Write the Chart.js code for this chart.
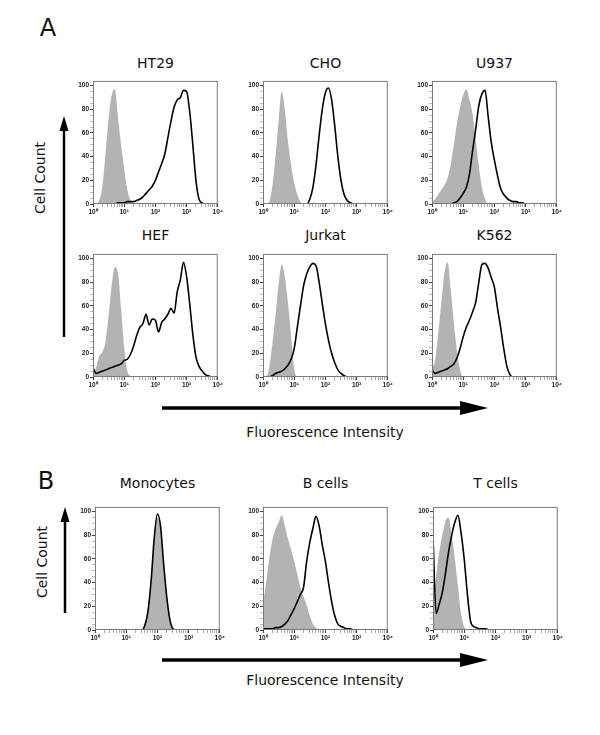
<!DOCTYPE html>
<html>
<head>
<meta charset="utf-8">
<script src="https://cdn.jsdelivr.net/npm/chart.js@4.4.0/dist/chart.umd.min.js"></script>
<style>
body { margin: 0; background: #fff; }
#fig { position: relative; width: 600px; height: 735px; font-family: "DejaVu Sans", sans-serif; color: #111; }
.lbl { position: absolute; white-space: nowrap; font-size: 14px; line-height: 18px; transform: translate(-50%, -50%); }
.big { font-size: 24px; line-height: 28px; }
.rot { transform: translate(-50%, -50%) rotate(-90deg); }
canvas { position: absolute; }
svg { position: absolute; left: 0; top: 0; }
</style>
</head>
<body>
<div id="fig">
  <svg width="600" height="735">
    <line x1="64" y1="337" x2="64" y2="128" stroke="#000" stroke-width="2.5"/>
    <polygon points="64,116 59.5,131 68.5,131" fill="#000"/>
    <line x1="65" y1="613" x2="65" y2="520" stroke="#000" stroke-width="2.5"/>
    <polygon points="65,507 60.5,522 69.5,522" fill="#000"/>
    <line x1="162" y1="408" x2="465" y2="408" stroke="#000" stroke-width="3.5"/>
    <polygon points="488,408 460,401 460,415" fill="#000"/>
    <line x1="162" y1="660" x2="465" y2="660" stroke="#000" stroke-width="3.5"/>
    <polygon points="488,660 460,653 460,667" fill="#000"/>
  </svg>
  <div class="lbl big" style="left:48px;top:28px">A</div>
  <div class="lbl big" style="left:46px;top:481px">B</div>
  <div class="lbl rot" style="left:40px;top:178px">Cell Count</div>
  <div class="lbl rot" style="left:42px;top:562px">Cell Count</div>
  <div class="lbl" style="left:325px;top:432px">Fluorescence Intensity</div>
  <div class="lbl" style="left:325px;top:680px">Fluorescence Intensity</div>
</div>
<script>
// bin centres, in decades (10^0 .. 10^4)
const bins = [0, 0.1, 0.2, 0.3, 0.4, 0.5, 0.6, 0.7, 0.8, 0.9,
              1.0, 1.1, 1.2, 1.3, 1.4, 1.5, 1.6, 1.7, 1.8, 1.9,
              2.0, 2.1, 2.2, 2.3, 2.4, 2.5, 2.6, 2.7, 2.8, 2.9,
              3.0, 3.1, 3.2, 3.3, 3.4, 3.5, 3.6, 3.7, 3.8, 3.9, 4.0];

const xMajor = [1, 10, 100, 1000, 10000];
const yTicks = [0, 20, 40, 60, 80, 100];

// grey = control, black = stained
const ht29Grey   = [0,0,3,15,42,72,92,97,74,50, 30,12,3,0,0,0,0,0,0,0, 0,0,0,0,0,0,0,0,0,0, 0,0,0,0,0,0,0,0,0,0, 0];
const ht29Black  = [0,0,0,0,0,0,0,0,1,1, 1,2,2,2,3,4,6,9,12,15, 20,27,34,42,56,70,82,88,90,96, 95,78,50,20,4,1,0,0,0,0, 0];
const choGrey    = [0,0,2,15,40,70,95,80,53,33, 18,8,2,0,0,0,0,0,0,0, 0,0,0,0,0,0,0,0,0,0, 0,0,0,0,0,0,0,0,0,0, 0];
const choBlack   = [0,0,0,0,0,0,0,0,0,0, 0,0,0,0,0,4,14,33,58,80, 94,98,88,66,40,20,8,3,1,0, 0,0,0,0,0,0,0,0,0,0, 0];
const u937Grey   = [2,4,8,12,16,22,33,50,68,82, 92,97,88,76,55,32,14,4,0,0, 0,0,0,0,0,0,0,0,0,0, 0,0,0,0,0,0,0,0,0,0, 0];
const u937Black  = [0,0,0,0,0,0,0,1,2,5, 9,14,25,45,63,83,93,96,74,52, 37,24,13,8,5,3,2,2,1,1, 0,0,0,0,0,0,0,0,0,0, 0];
const hefGrey    = [2,8,18,21,30,52,78,93,88,58, 25,5,1,0,0,0,0,0,0,0, 0,0,0,0,0,0,0,0,0,0, 0,0,0,0,0,0,0,0,0,0, 0];
const hefBlack   = [8,3,4,5,6,7,8,9,10,11, 14,15,19,26,35,42,45,53,44,49, 48,38,46,49,53,58,54,72,82,97, 85,62,36,17,9,5,2,1,0,0, 0];
const jurkatGrey = [0,0,8,28,52,78,95,85,63,35, 7,0,0,0,0,0,0,0,0,0, 0,0,0,0,0,0,0,0,0,0, 0,0,0,0,0,0,0,0,0,0, 0];
const jurkatBlack= [0,0,0,1,3,4,5,7,10,15, 24,42,60,77,87,93,96,94,80,62, 45,31,20,12,6,3,1,0,0,0, 0,0,0,0,0,0,0,0,0,0, 0];
const k562Grey   = [8,14,37,63,88,97,74,46,22,6, 0,0,0,0,0,0,0,0,0,0, 0,0,0,0,0,0,0,0,0,0, 0,0,0,0,0,0,0,0,0,0, 0];
const k562Black  = [6,3,4,5,6,7,9,11,16,24, 34,42,48,55,63,80,95,96,92,84, 76,58,42,24,9,2,0,0,0,0, 0,0,0,0,0,0,0,0,0,0, 0];
const monoGrey   = [0,0,0,0,0,0,0,0,0,0, 0,0,0,0,0,1,6,20,45,78, 95,86,58,30,10,2,0,0,0,0, 0,0,0,0,0,0,0,0,0,0, 0];
const monoBlack  = [0,0,0,0,0,0,0,0,0,0, 0,0,0,0,0,0,4,16,42,78, 98,88,56,28,9,1,0,0,0,0, 0,0,0,0,0,0,0,0,0,0, 0];
const bcellGrey  = [22,40,60,76,85,91,97,88,77,68, 58,47,36,28,21,12,5,2,0,0, 0,0,0,0,0,0,0,0,0,0, 0,0,0,0,0,0,0,0,0,0, 0];
const bcellBlack = [1,1,1,1,2,2,3,5,8,13, 18,24,30,36,58,74,86,96,88,72, 58,40,24,12,5,3,2,1,1,0, 0,0,0,0,0,0,0,0,0,0, 0];
const tcellGrey  = [20,45,66,80,92,95,80,60,37,14, 3,0,0,0,0,0,0,0,0,0, 0,0,0,0,0,0,0,0,0,0, 0,0,0,0,0,0,0,0,0,0, 0];
const tcellBlack = [80,14,22,32,48,66,80,91,97,82, 60,31,8,3,2,1,1,1,0,0, 0,0,0,0,0,0,0,0,0,0, 0,0,0,0,0,0,0,0,0,0, 0];

const panels = [
  { title: 'HT29',      grey: ht29Grey,   black: ht29Black,   left: 93,  top: 80,  titleY: 63 },
  { title: 'CHO',       grey: choGrey,    black: choBlack,    left: 263, top: 80,  titleY: 63 },
  { title: 'U937',      grey: u937Grey,   black: u937Black,   left: 432, top: 80,  titleY: 63 },
  { title: 'HEF',       grey: hefGrey,    black: hefBlack,    left: 93,  top: 253, titleY: 235 },
  { title: 'Jurkat',    grey: jurkatGrey, black: jurkatBlack, left: 263, top: 253, titleY: 235 },
  { title: 'K562',      grey: k562Grey,   black: k562Black,   left: 432, top: 253, titleY: 235 },
  { title: 'Monocytes', grey: monoGrey,   black: monoBlack,   left: 95,  top: 506, titleY: 483 },
  { title: 'B cells',   grey: bcellGrey,  black: bcellBlack,  left: 263, top: 506, titleY: 483 },
  { title: 'T cells',   grey: tcellGrey,  black: tcellBlack,  left: 433, top: 506, titleY: 483 }
];

const PW = 125, PH = 124, PADL = 22, PADT = 4, PADR = 6, PADB = 16;
const sup = ['\u2070', '\u00b9', '\u00b2', '\u00b3', '\u2074'];

const frame = {
  id: 'frame',
  afterDraw(chart) {
    const { ctx, chartArea: a } = chart;
    ctx.save();
    ctx.strokeStyle = '#7a7a7a';
    ctx.lineWidth = 1;
    ctx.strokeRect(a.left + 0.5, a.top + 0.5, a.right - a.left - 1, a.bottom - a.top - 1);
    ctx.restore();
  }
};

function toPoints(vals) {
  return bins.map((d, i) => ({ x: Math.pow(10, d), y: vals[i] }));
}

const tickFont = { family: 'Liberation Sans', size: 6.5, weight: 'bold' };
const fig = document.getElementById('fig');

panels.forEach(p => {
  const t = document.createElement('div');
  t.className = 'lbl';
  t.style.left = (p.left + PW / 2) + 'px';
  t.style.top = p.titleY + 'px';
  t.textContent = p.title;
  fig.appendChild(t);

  const c = document.createElement('canvas');
  c.width = PADL + PW + PADR;
  c.height = PADT + PH + PADB;
  c.style.left = (p.left - PADL) + 'px';
  c.style.top = (p.top - PADT) + 'px';
  fig.appendChild(c);

  new Chart(c, {
    type: 'line',
    data: {
      datasets: [
        { data: toPoints(p.black), borderColor: '#000', borderWidth: 1.6, pointRadius: 0,
          fill: false, cubicInterpolationMode: 'monotone', order: 0 },
        { data: toPoints(p.grey), borderColor: 'rgba(0,0,0,0)', borderWidth: 0, pointRadius: 0,
          backgroundColor: '#b3b3b3', fill: 'origin', cubicInterpolationMode: 'monotone', order: 1 }
      ]
    },
    options: {
      responsive: false,
      animation: false,
      events: [],
      layout: { padding: { top: PADT, right: PADR, left: 0, bottom: 0 } },
      plugins: { legend: { display: false }, tooltip: { enabled: false } },
      scales: {
        x: {
          type: 'logarithmic', min: 1, max: 10000,
          afterBuildTicks: s => {
            const ticks = [];
            xMajor.forEach((m, i) => {
              ticks.push({ value: m, major: true });
              if (i < xMajor.length - 1) for (let k = 2; k < 10; k++) ticks.push({ value: m * k });
            });
            s.ticks = ticks;
          },
          afterFit: s => { s.height = PADB; },
          border: { display: false },
          grid: { drawOnChartArea: false, tickLength: 3,
                  color: ctx => (ctx.tick && ctx.tick.major) ? '#444' : '#aaa' },
          ticks: {
            autoSkip: false, maxRotation: 0, padding: 1, font: tickFont, color: '#222',
            callback: v => {
              const i = xMajor.indexOf(v);
              return i >= 0 ? '10' + sup[i] : '';
            }
          }
        },
        y: {
          min: 0, max: 104,
          afterBuildTicks: s => {
            const ticks = [];
            for (let v = 0; v <= 100; v += 5) ticks.push({ value: v, major: yTicks.includes(v) });
            s.ticks = ticks;
          },
          afterFit: s => { s.width = PADL; },
          border: { display: false },
          grid: { drawOnChartArea: false, tickLength: 3,
                  color: ctx => (ctx.tick && ctx.tick.major) ? '#444' : '#bbb' },
          ticks: {
            autoSkip: false, padding: 1, font: tickFont, color: '#222',
            callback: v => yTicks.includes(v) ? String(v) : ''
          }
        }
      }
    },
    plugins: [frame]
  });
});
</script>
</body>
</html>
